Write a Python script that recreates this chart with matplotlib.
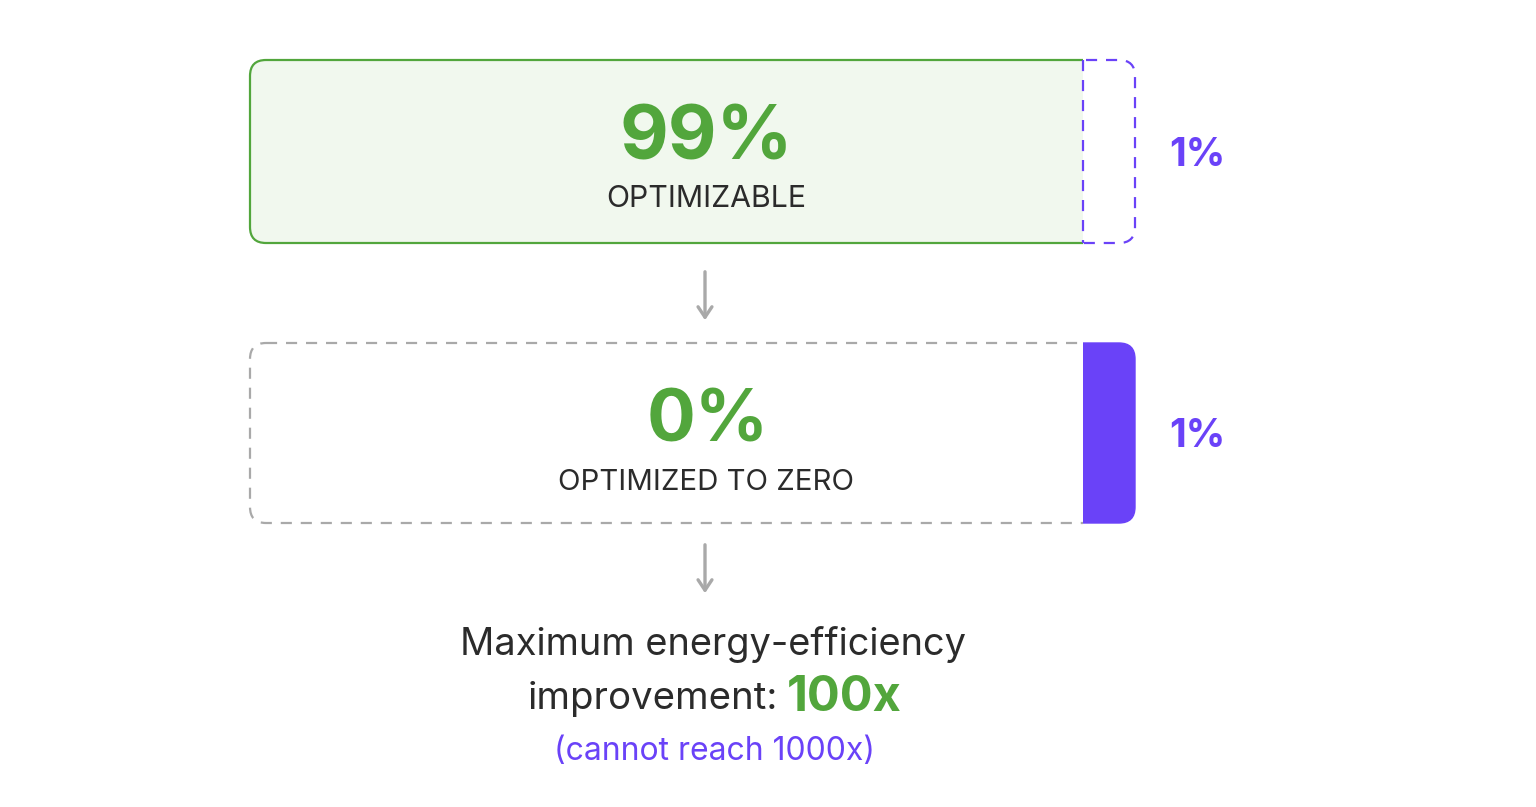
import matplotlib.pyplot as plt
from matplotlib.patches import FancyBboxPatch, Rectangle

plt.rcParams['font.family'] = ['Inter', 'DejaVu Sans']

# values shown in the chart
shares_before = [99, 1]      # optimizable, rest
shares_after = [0, 1]        # optimized to zero, rest
labels = ['OPTIMIZABLE', 'OPTIMIZED TO ZERO']
gain = 100
limit = 1000

green = '#52a63c'
light_green = '#f1f8ee'
purple = '#6a42f8'
grey = '#a9a9a9'
dark = '#2b2b2b'

fig = plt.figure(figsize=(15.36, 8.07), dpi=100)
ax = fig.add_axes([0, 0, 1, 1])
ax.set_xlim(0, 1536)
ax.set_ylim(807, 0)
ax.axis('off')

x0, x1, split = 250, 1135, 1083
rows = [(60, 243), (343, 523)]
r = 16


def rbox(y0, y1, **kw):
    p = FancyBboxPatch((x0, y0), x1 - x0, y1 - y0,
                       boxstyle='round,pad=0,rounding_size=%d' % r, **kw)
    ax.add_patch(p)
    return p


def clip(p, left):
    if left:
        rect = Rectangle((0, 0), split, 807, transform=ax.transData)
    else:
        rect = Rectangle((split, 0), 1536 - split, 807, transform=ax.transData)
    p.set_clip_path(rect)


# top bar
ya, yb = rows[0]
p = rbox(ya, yb, facecolor=light_green, edgecolor=green, lw=1.6)
clip(p, True)
p = rbox(ya, yb, facecolor='none', edgecolor=purple, lw=1.6, ls=(0, (5, 4)))
clip(p, False)
ax.plot([split, split], [ya, yb], color=purple, lw=1.6, ls=(0, (5, 4)))

# bottom bar
ya, yb = rows[1]
p = rbox(ya, yb, facecolor='none', edgecolor=grey, lw=1.6, ls=(0, (5, 4)))
clip(p, True)
p = rbox(ya, yb, facecolor=purple, edgecolor=purple, lw=1.0)
clip(p, False)

# big numbers and labels
cx = 706
ax.text(cx, 160, f'{shares_before[0]}%', color=green, fontsize=54, fontweight='bold',
        ha='center', va='baseline')
ax.text(cx, 207, labels[0], color=dark, fontsize=21.8, ha='center', va='baseline')
ax.text(cx + 2, 442, f'{shares_after[0]}%', color=green, fontsize=52, fontweight='bold',
        ha='center', va='baseline')
ax.text(cx, 490, labels[1], color=dark, fontsize=21.2, ha='center', va='baseline')

for (ya, yb), v in zip(rows, [shares_before[1], shares_after[1]]):
    ax.text(1197, (ya + yb) / 2 + 14, f'{v}%', color=purple, fontsize=28,
            fontweight='bold', ha='center', va='baseline')

# arrows
for ys, ye in [(269, 323), (542, 596)]:
    ax.annotate('', xy=(705, ye), xytext=(705, ys),
                arrowprops=dict(arrowstyle='->,head_length=0.75,head_width=0.5',
                                color=grey, lw=2.4))

# conclusion text
ax.text(713, 655, 'Maximum energy-efficiency', color=dark, fontsize=27.4,
        ha='center', va='baseline')
ax.text(778, 709, 'improvement:', color=dark, fontsize=27.6, ha='right', va='baseline')
ax.text(787, 711, f'{gain}x', color=green, fontsize=35, fontweight='bold',
        ha='left', va='baseline')
ax.text(715, 760, f'(cannot reach {limit}x)', color=purple, fontsize=23,
        ha='center', va='baseline')

fig.savefig('out.png', dpi=100, facecolor='white')
